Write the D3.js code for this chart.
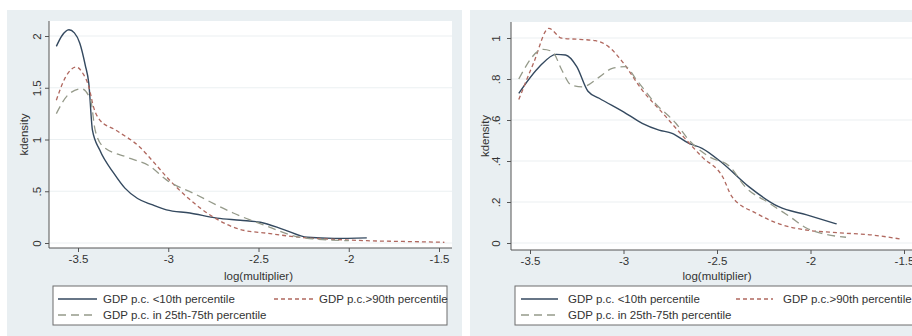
<!DOCTYPE html>
<html>
<head>
<meta charset="utf-8">
<script src="https://cdn.jsdelivr.net/npm/d3@7"></script>
<style>
  body { margin: 0; background: #ffffff; }
  svg text { font-family: "Liberation Sans", Arial, sans-serif; fill: #333333; }
</style>
</head>
<body>
<div id="chart"></div>
<script>
'use strict';

// ---- data ----
var xTicks = [-3.5, -3, -2.5, -2, -1.5];
var xTickLabels = ["-3.5", "-3", "-2.5", "-2", "-1.5"];

var leftYTicks = [0, 0.5, 1, 1.5, 2];
var leftYTickLabels = ["0", ".5", "1", "1.5", "2"];
var rightYTicks = [0, 0.2, 0.4, 0.6, 0.8, 1];
var rightYTickLabels = ["0", ".2", ".4", ".6", ".8", "1"];

var seriesNames = ["GDP p.c. <10th percentile", "GDP p.c.>90th percentile", "GDP p.c. in 25th-75th percentile"];

// left panel
var leftLow = [[-3.62, 1.90], [-3.59, 2.00], [-3.55, 2.06], [-3.52, 2.03], [-3.49, 1.93], [-3.46, 1.72],
  [-3.44, 1.54], [-3.42, 1.09], [-3.38, 0.90], [-3.30, 0.67], [-3.24, 0.53], [-3.17, 0.43], [-3.09, 0.37],
  [-3.01, 0.32], [-2.88, 0.29], [-2.73, 0.24], [-2.60, 0.22], [-2.49, 0.20], [-2.36, 0.13], [-2.23, 0.055],
  [-2.08, 0.045], [-1.90, 0.05]];
var leftHigh = [[-3.62, 1.38], [-3.57, 1.60], [-3.51, 1.70], [-3.47, 1.63], [-3.44, 1.51], [-3.415, 1.32],
  [-3.38, 1.19], [-3.29, 1.09], [-3.16, 0.93], [-3.07, 0.76], [-3.01, 0.64], [-2.90, 0.45], [-2.75, 0.25],
  [-2.60, 0.13], [-2.45, 0.094], [-2.27, 0.055], [-2.08, 0.035], [-1.90, 0.022], [-1.70, 0.015], [-1.47, 0.007]];
var leftMid = [[-3.62, 1.25], [-3.55, 1.44], [-3.48, 1.49], [-3.43, 1.38], [-3.405, 1.09], [-3.36, 0.93],
  [-3.23, 0.83], [-3.10, 0.74], [-3.01, 0.61], [-2.86, 0.48], [-2.64, 0.29], [-2.45, 0.16], [-2.27, 0.055],
  [-2.00, 0.022]];

// right panel
var rightLow = [[-3.56, 0.73], [-3.45, 0.86], [-3.36, 0.92], [-3.31, 0.917], [-3.25, 0.86], [-3.19, 0.74],
  [-3.13, 0.706], [-3.00, 0.64], [-2.90, 0.584], [-2.81, 0.551], [-2.74, 0.535], [-2.65, 0.486],
  [-2.58, 0.462], [-2.47, 0.389], [-2.33, 0.275], [-2.17, 0.177], [-2.02, 0.137], [-1.86, 0.093]];
var rightHigh = [[-3.56, 0.70], [-3.48, 0.88], [-3.40, 1.047], [-3.33, 0.999], [-3.25, 0.994], [-3.15, 0.987],
  [-3.08, 0.958], [-3.00, 0.877], [-2.90, 0.746], [-2.79, 0.633], [-2.68, 0.519], [-2.58, 0.42],
  [-2.47, 0.323], [-2.42, 0.226], [-2.29, 0.145], [-2.15, 0.088], [-2.02, 0.063], [-1.85, 0.05],
  [-1.67, 0.039], [-1.51, 0.018]];
var rightMid = [[-3.56, 0.80], [-3.43, 0.945], [-3.38, 0.933], [-3.33, 0.844], [-3.28, 0.771], [-3.22, 0.762],
  [-3.13, 0.809], [-3.06, 0.852], [-2.99, 0.86], [-2.93, 0.795], [-2.83, 0.681], [-2.72, 0.584],
  [-2.65, 0.502], [-2.54, 0.42], [-2.43, 0.372], [-2.35, 0.275], [-2.22, 0.194], [-2.11, 0.128],
  [-2.02, 0.072], [-1.94, 0.047], [-1.81, 0.028]];

// ---- style ----
var colors = ["#34495f", "#b0685f", "#959a8a"];
var dashes = [null, "4,3", "8,5"];
var panelBg = "#e9eff2";
var gridColor = "#ebf0f2";
var fontSize = 11.5;

var svg = d3.select("#chart").append("svg")
  .attr("width", 912)
  .attr("height", 336);

function drawPanel(cfg) {
  var g = svg.append("g");

  g.append("rect")
    .attr("x", cfg.bg[0]).attr("y", cfg.bg[1])
    .attr("width", cfg.bg[2]).attr("height", cfg.bg[3])
    .attr("fill", panelBg);

  var x = d3.scaleLinear().domain([-3.5, -1.5]).range(cfg.xRange);
  var y = d3.scaleLinear().domain(cfg.yDomain).range(cfg.yRange);

  // plot region
  g.append("rect")
    .attr("x", cfg.plot[0]).attr("y", cfg.plot[1])
    .attr("width", cfg.plot[2] - cfg.plot[0]).attr("height", cfg.axisY - cfg.plot[1])
    .attr("fill", "#ffffff");

  g.selectAll("line.grid")
    .data(cfg.yTicks)
    .enter()
    .append("line")
    .attr("class", "grid")
    .attr("x1", cfg.plot[0]).attr("x2", cfg.plot[2])
    .attr("y1", function (d) { return y(d); })
    .attr("y2", function (d) { return y(d); })
    .attr("stroke", gridColor)
    .attr("stroke-width", 1.2);

  var clipId = "clip" + cfg.id;
  g.append("clipPath").attr("id", clipId)
    .append("rect")
    .attr("x", cfg.plot[0]).attr("y", cfg.plot[1])
    .attr("width", cfg.plot[2] - cfg.plot[0]).attr("height", cfg.axisY - cfg.plot[1]);

  var line = d3.line()
    .x(function (d) { return x(d[0]); })
    .y(function (d) { return y(d[1]); })
    .curve(d3.curveMonotoneX);

  cfg.series.forEach(function (s, i) {
    g.append("path")
      .datum(s)
      .attr("clip-path", "url(#" + clipId + ")")
      .attr("d", line)
      .attr("fill", "none")
      .attr("stroke", colors[i])
      .attr("stroke-width", i === 0 ? 1.4 : 1.3)
      .attr("stroke-dasharray", dashes[i]);
  });

  // x axis
  var xAxis = d3.axisBottom(x)
    .tickValues(xTicks)
    .tickSize(4)
    .tickPadding(3)
    .tickFormat(function (d, i) { return xTickLabels[i]; });
  var gx = g.append("g")
    .attr("transform", "translate(0," + cfg.axisY + ")")
    .call(xAxis);
  gx.select(".domain").attr("d", "M" + cfg.plot[0] + ",0H" + cfg.plot[2]);
  styleAxis(gx);

  // y axis, labels turned like Stata does
  var yAxis = d3.axisLeft(y)
    .tickValues(cfg.yTicks)
    .tickSize(4)
    .tickFormat(function (d, i) { return cfg.yTickLabels[i]; });
  var gy = g.append("g")
    .attr("transform", "translate(" + cfg.plot[0] + ",0)")
    .call(yAxis);
  gy.select(".domain").attr("d", "M0," + cfg.plot[1] + "V" + cfg.axisY);
  styleAxis(gy);
  gy.selectAll(".tick text")
    .attr("x", null)
    .attr("text-anchor", "middle")
    .attr("transform", "translate(" + (cfg.yLabelX - cfg.plot[0]) + ",0) rotate(-90)")
    .attr("dy", "0.35em");

  g.append("text")
    .attr("transform", "translate(" + cfg.titleX + "," + ((cfg.plot[1] + cfg.axisY) / 2) + ") rotate(-90)")
    .attr("text-anchor", "middle")
    .attr("font-size", fontSize)
    .text("kdensity");

  g.append("text")
    .attr("x", (cfg.xRange[0] + cfg.xRange[1]) / 2)
    .attr("y", cfg.xTitleY)
    .attr("text-anchor", "middle")
    .attr("font-size", fontSize)
    .text("log(multiplier)");

  // legend
  var lg = cfg.legend;
  g.append("rect")
    .attr("x", lg.box[0]).attr("y", lg.box[1])
    .attr("width", lg.box[2] - lg.box[0]).attr("height", lg.box[3] - lg.box[1])
    .attr("fill", "#ffffff")
    .attr("stroke", "#6d6d6d")
    .attr("stroke-width", 1);

  var slots = [[lg.col1, lg.row1], [lg.col2, lg.row1], [lg.col1, lg.row2]];
  slots.forEach(function (s, i) {
    g.append("line")
      .attr("x1", s[0]).attr("x2", s[0] + lg.sample)
      .attr("y1", s[1]).attr("y2", s[1])
      .attr("stroke", colors[i])
      .attr("stroke-width", 1.3)
      .attr("stroke-dasharray", dashes[i]);
    g.append("text")
      .attr("x", s[0] + lg.sample + lg.gap)
      .attr("y", s[1])
      .attr("dy", "0.35em")
      .attr("font-size", fontSize)
      .text(seriesNames[i]);
  });
}

function styleAxis(sel) {
  sel.select(".domain").attr("stroke", "#555555");
  sel.selectAll(".tick line").attr("stroke", "#555555");
  sel.selectAll(".tick text")
    .attr("font-size", fontSize)
    .attr("font-family", "Liberation Sans, Arial, sans-serif")
    .attr("fill", "#333333");
}

drawPanel({
  id: "L",
  bg: [7, 10, 455, 326],
  plot: [49, 21, 452],
  axisY: 248,
  xRange: [78, 439],
  yDomain: [0, 2],
  yRange: [243, 36],
  yTicks: leftYTicks,
  yTickLabels: leftYTickLabels,
  yLabelX: 37,
  titleX: 28,
  xTitleY: 280,
  series: [leftLow, leftHigh, leftMid],
  legend: { box: [53, 286, 447, 325], col1: 58, col2: 274, row1: 299, row2: 315, sample: 39, gap: 6 }
});

drawPanel({
  id: "R",
  bg: [470, 10, 460, 326],
  plot: [511, 22, 925],
  axisY: 250,
  xRange: [530, 904],
  yDomain: [0, 1],
  yRange: [243, 38],
  yTicks: rightYTicks,
  yTickLabels: rightYTickLabels,
  yLabelX: 496,
  titleX: 489,
  xTitleY: 280,
  series: [rightLow, rightHigh, rightMid],
  legend: { box: [515, 286, 920, 325], col1: 521, col2: 736, row1: 299, row2: 315, sample: 37, gap: 10 }
});
</script>
</body>
</html>
